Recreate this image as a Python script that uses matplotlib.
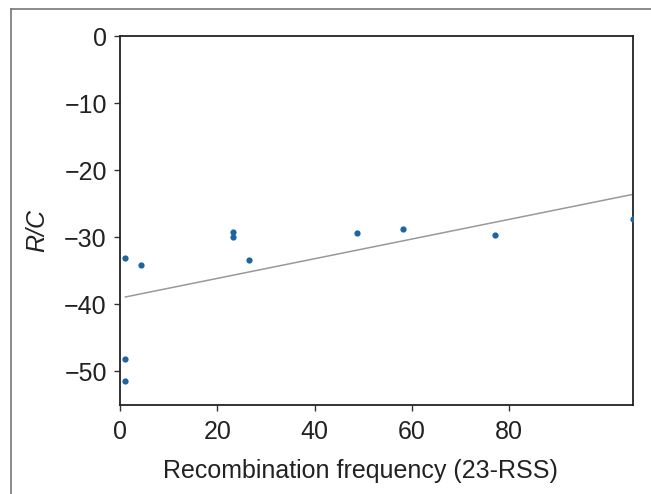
import numpy as np
import matplotlib
matplotlib.use('Agg')
import matplotlib.pyplot as plt
from matplotlib.lines import Line2D

plt.rcParams['font.family'] = ['Liberation Sans', 'DejaVu Sans']

# puntos
freq = [1.1, 1.1, 1.1, 4.3, 23.3, 23.3, 26.5, 48.6, 58.1, 77.0, 105.4]
ric = [-33.1, -48.2, -51.4, -34.2, -30.0, -29.25, -33.4, -29.4, -28.7, -29.6, -27.35]

# recta de ajuste (extremos)
fit_x = [1.1, 105.4]
fit_y = [-38.9, -23.6]

xticks = [0, 20, 40, 60, 80]
yticks = [0, -10, -20, -30, -40, -50]

fig = plt.figure(figsize=(6.51, 4.94), dpi=100)
ax = fig.add_axes([120/651, 89/494, 513/651, 369/494])

ax.plot(fit_x, fit_y, color='#999999', lw=1.1, zorder=2)
ax.plot(freq, ric, 'o', color='#1c65a0', ms=4.5, mec='none', zorder=3)

ax.set_xlim(0, 105.4)
ax.set_ylim(-55, 0)
ax.set_xticks(xticks)
ax.set_yticks(yticks)

for s in ax.spines.values():
    s.set_color('#222222')
    s.set_linewidth(1.3)
ax.tick_params(direction='out', length=4.5, width=1.0, color='#333333',
               labelsize=18, labelcolor='#222222', pad=5)
ax.tick_params(axis='x', pad=6)

ax.set_xlabel('Recombination frequency (23-RSS)', fontsize=18, color='#222222', labelpad=11)
ax.set_ylabel('R/C', fontsize=18, style='italic', color='#222222', labelpad=11)
ax.xaxis.label.set_x(0.468)
ax.yaxis.label.set_y(0.473)

# marco exterior (solo arriba e izquierda)
fig.add_artist(Line2D([11/651, 1], [1 - 9/494, 1 - 9/494], transform=fig.transFigure,
                      color='#777777', lw=1.2))
fig.add_artist(Line2D([11/651, 11/651], [0, 1 - 9/494], transform=fig.transFigure,
                      color='#777777', lw=1.2))

fig.savefig('out.png', dpi=100)
